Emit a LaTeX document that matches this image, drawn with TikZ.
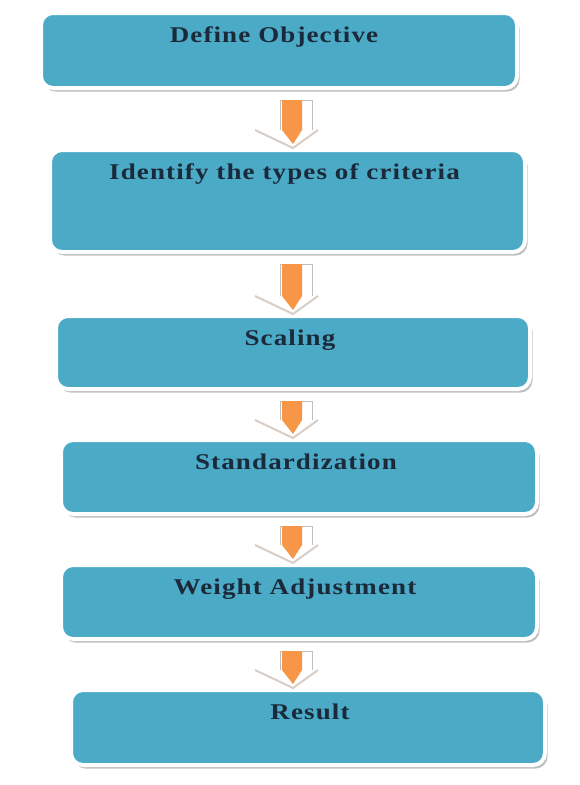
\documentclass[tikz,border=0pt]{standalone}
\usepackage{fontspec}
\setmainfont{Liberation Serif}
\newfontfamily\lblfont[FakeStretch=1.2, LetterSpace=5]{Liberation Serif}
\usetikzlibrary{calc,shadows}
\definecolor{boxblue}{HTML}{4BAAC6}
\definecolor{txtnavy}{HTML}{1B2A3A}
\definecolor{arrorange}{HTML}{F79646}
\definecolor{vline}{HTML}{D9CEC6}
\tikzset{
  x=1pt,y=-1pt,
  flowbox/.style={rectangle, rounded corners=12pt, fill=boxblue, draw=white, line width=4pt,
    inner sep=0pt,
    drop shadow={shadow xshift=2.5pt, shadow yshift=-3.5pt, fill=black!45, opacity=0.55}},
  flowlbl/.style={anchor=base, inner sep=0pt, text=txtnavy, font=\lblfont\fontsize{22.5}{27}\selectfont\bfseries},
}
\newcommand\flowarrow[2]{%
  \path let \p1=(#1.south), \p2=(#2.north), \p3=(axis) in
    coordinate (as) at (\x3,\y1-10pt)
    coordinate (ae) at (\x3,\y2);
  \draw[fill=white, draw=black!25, line width=0.8pt] ($(as)+(-10,0)$) rectangle ($(ae)+(22,-18)$);
  \fill[arrorange] ($(as)+(-8,0)$) -- ($(as)+(12,0)$) -- ($(ae)+(12,-10)$) -- ($(ae)+(3,-3)$) -- ($(ae)+(-8,-10)$) -- cycle;
  \fill[white] ($(ae)+(-35,-18)$) -- ($(ae)+(28,-18)$) -- ($(ae)+(3,0)$) -- cycle;
  \fill[arrorange] ($(ae)+(-8,-18)$) -- ($(ae)+(12,-18)$) -- ($(ae)+(3,-4)$) -- cycle;
  \draw[vline, line width=2pt, line join=round] ($(ae)+(-35,-18)$) -- ($(ae)+(3,0)$) -- ($(ae)+(28,-18)$);
}
\begin{document}
\begin{tikzpicture}
\useasboundingbox[fill=white] (0,0) rectangle (580,785);
\coordinate (axis) at (290,0);
\node[flowbox, minimum width=476pt, minimum height=75pt] (b1) at (279,50.5) {};
\node[flowbox, minimum width=475pt, minimum height=102pt] (b2) at (287.5,201) {};
\node[flowbox, minimum width=474pt, minimum height=73pt] (b3) at (293,352.5) {};
\node[flowbox, minimum width=476pt, minimum height=74pt] (b4) at (299,477) {};
\node[flowbox, minimum width=476pt, minimum height=74pt] (b5) at (299,602) {};
\node[flowbox, minimum width=474pt, minimum height=75pt] (b6) at (308,727.5) {};
\node[flowlbl] (t1) at ([xshift=-5pt,yshift=-31pt]b1.north) {Define Objective};
\node[flowlbl] (t2) at ([xshift=-3pt,yshift=-31pt]b2.north) {Identify the types of criteria};
\node[flowlbl] (t3) at ([xshift=-3pt,yshift=-31pt]b3.north) {Scaling};
\node[flowlbl] (t4) at ([xshift=-3pt,yshift=-31pt]b4.north) {Standardization};
\node[flowlbl] (t5) at ([xshift=-4pt,yshift=-31pt]b5.north) {Weight Adjustment};
\node[flowlbl] (t6) at ([xshift=2pt,yshift=-31pt]b6.north) {Result};
\flowarrow{b1}{b2}
\flowarrow{b2}{b3}
\flowarrow{b3}{b4}
\flowarrow{b4}{b5}
\flowarrow{b5}{b6}
\end{tikzpicture}
\end{document}
